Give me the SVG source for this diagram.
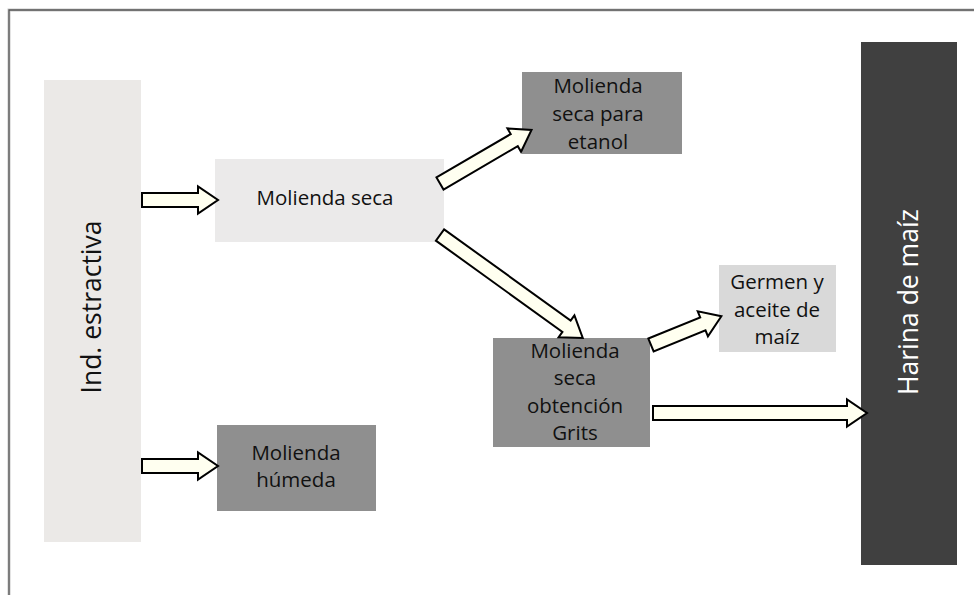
<svg xmlns="http://www.w3.org/2000/svg" width="974" height="595" viewBox="0 0 974 595">
<style>
  .t { font-family: "Open Sans", "Liberation Sans", sans-serif; font-size: 20.5px; fill: #111; text-anchor: middle; }
  .big { font-family: "Open Sans", "Liberation Sans", sans-serif; font-size: 26.5px; text-anchor: middle; }
  .arrow { fill: #fffff0; stroke: #000; stroke-width: 2; stroke-linejoin: miter; }
</style>
<defs>
  <polygon id="a76" class="arrow" points="0,-7 56,-7 56,-13.5 76,0 56,13.5 56,7 0,7"/>
</defs>
<rect x="0" y="0" width="974" height="595" fill="#fff"/>
<g id="frame" fill="none">
  <polyline points="9,595 9,10 974,10" stroke="#c8c8c8" stroke-width="3"/>
  <polyline points="9,595 9,10 974,10" stroke="#555" stroke-width="1.3"/>
</g>
<g id="ind-estractiva">
  <rect x="44" y="80" width="97" height="462" fill="#ebe9e7"/>
  <text class="big" fill="#111" transform="translate(101,307) rotate(-90)">Ind. estractiva</text>
</g>
<g id="molienda-seca">
  <rect x="215" y="159" width="229" height="83" fill="#ebeaea"/>
  <text class="t" x="325" y="205">Molienda seca</text>
</g>
<g id="molienda-etanol">
  <rect x="522" y="72" width="160" height="82" fill="#8f8f8f"/>
  <text class="t" x="598" y="93">Molienda</text>
  <text class="t" x="598" y="121">seca para</text>
  <text class="t" x="598" y="149">etanol</text>
</g>
<g id="germen">
  <rect x="719" y="265" width="117" height="87" fill="#d9d9d9"/>
  <text class="t" x="777" y="289">Germen y</text>
  <text class="t" x="777" y="317">aceite de</text>
  <text class="t" x="777" y="344">maíz</text>
</g>
<g id="grits">
  <rect x="493" y="338" width="157" height="109" fill="#8f8f8f"/>
  <text class="t" x="575" y="358">Molienda</text>
  <text class="t" x="575" y="385">seca</text>
  <text class="t" x="575" y="413">obtención</text>
  <text class="t" x="575" y="440">Grits</text>
</g>
<g id="molienda-humeda">
  <rect x="217" y="425" width="159" height="86" fill="#8f8f8f"/>
  <text class="t" x="296" y="460">Molienda</text>
  <text class="t" x="296" y="487">húmeda</text>
</g>
<g id="harina">
  <rect x="861" y="42" width="96" height="523" fill="#404040"/>
  <text class="big" fill="#ffffff" transform="translate(918,302) rotate(-90)">Harina de maíz</text>
</g>
<g id="connectors">
  <use href="#a76" transform="translate(142,200)"/>
  <use href="#a76" transform="translate(142,466)"/>
  <polygon class="arrow" transform="translate(440,183.5) rotate(-30.3)" points="0,-7 86,-7 86,-13.5 106,0 86,13.5 86,7 0,7"/>
  <polygon class="arrow" transform="translate(440,235) rotate(35.8)" points="0,-7 156,-7 156,-13.5 176,0 156,13.5 156,7 0,7"/>
  <use href="#a76" transform="translate(651,345) rotate(-22.2)"/>
  <polygon class="arrow" transform="translate(653,413)" points="0,-7 194,-7 194,-13.5 214,0 194,13.5 194,7 0,7"/>
</g>
</svg>
